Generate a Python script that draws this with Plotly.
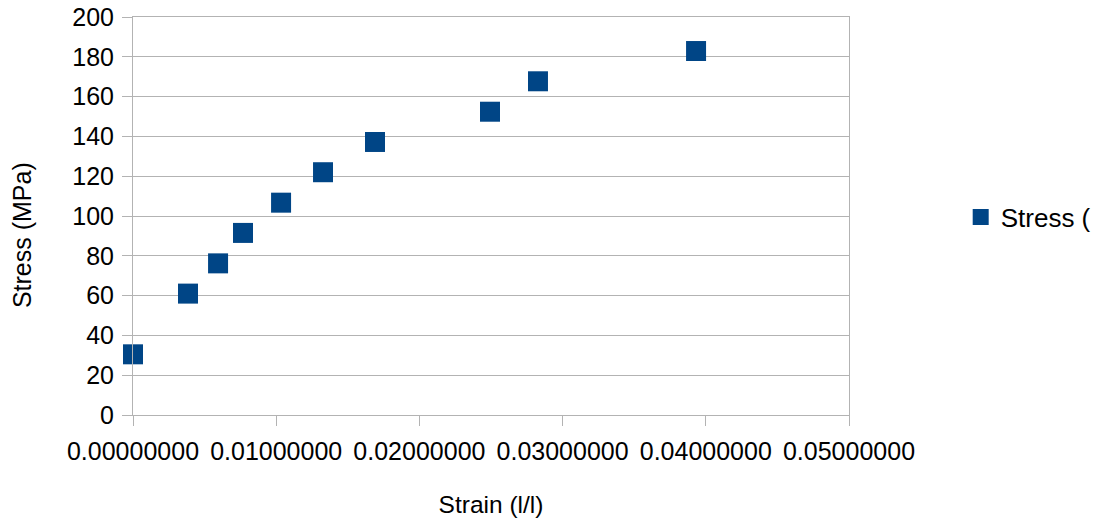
import plotly.graph_objects as go

strain = [0.0, 0.00384, 0.00594, 0.00768, 0.01034, 0.01327, 0.0169, 0.02493, 0.02828, 0.03932]
stress = [30.5, 61.0, 76.2, 91.5, 106.7, 122.0, 137.2, 152.4, 167.7, 182.9]
x_ticks = [0.0, 0.01, 0.02, 0.03, 0.04, 0.05]
x_tick_text = ["0.00000000", "0.01000000", "0.02000000", "0.03000000", "0.04000000", "0.05000000"]
y_ticks = [0, 20, 40, 60, 80, 100, 120, 140, 160, 180, 200]
series_name = "Stress ("
x_title = "Strain (l/l)"
y_title = "Stress (MPa)"

FONT = "Liberation Sans, Arial, sans-serif"
GRID = "#b3b3b3"

fig = go.Figure()
fig.add_trace(go.Scatter(
    x=strain, y=stress, mode="markers", name=series_name, cliponaxis=False,
    marker=dict(symbol="square", size=20, color="#004586", line=dict(width=0)),
))

fig.update_layout(
    width=1102, height=519,
    paper_bgcolor="white", plot_bgcolor="white",
    margin=dict(l=133, r=253, t=17, b=104, autoexpand=False),
    font=dict(family=FONT, size=24, color="black"),
    showlegend=True,
    legend=dict(x=1.156, xanchor="left", y=0.497, yanchor="middle",
                font=dict(size=26, family=FONT, color="black"),
                bgcolor="rgba(0,0,0,0)", itemwidth=30),
    xaxis=dict(
        range=[0, 0.05], tickmode="array", tickvals=x_ticks, ticktext=x_tick_text,
        showgrid=False, zeroline=False, showline=True, linecolor=GRID, linewidth=1, mirror=True,
        ticks="outside", ticklen=10, tickcolor=GRID, tickwidth=1, ticklabelstandoff=4,
        tickfont=dict(size=25, family=FONT, color="black"),
        title=dict(text=x_title, font=dict(size=24.5, family=FONT, color="black"), standoff=31),
    ),
    yaxis=dict(
        range=[0, 200], tickmode="array", tickvals=y_ticks,
        showgrid=True, gridcolor=GRID, gridwidth=1, zeroline=False,
        showline=True, linecolor=GRID, linewidth=1, mirror=True,
        ticks="outside", ticklen=10, tickcolor=GRID, tickwidth=1, ticklabelstandoff=3,
        tickfont=dict(size=25, family=FONT, color="black"),
    ),
    annotations=[dict(
        text=y_title, textangle=-90, showarrow=False,
        xref="paper", yref="paper", x=-0.155, y=0.452,
        xanchor="center", yanchor="middle",
        font=dict(size=25, family=FONT, color="black"),
    )],
)

fig.write_html("out.html", config={"displayModeBar": False},
               post_script="document.body.style.margin='0';")
